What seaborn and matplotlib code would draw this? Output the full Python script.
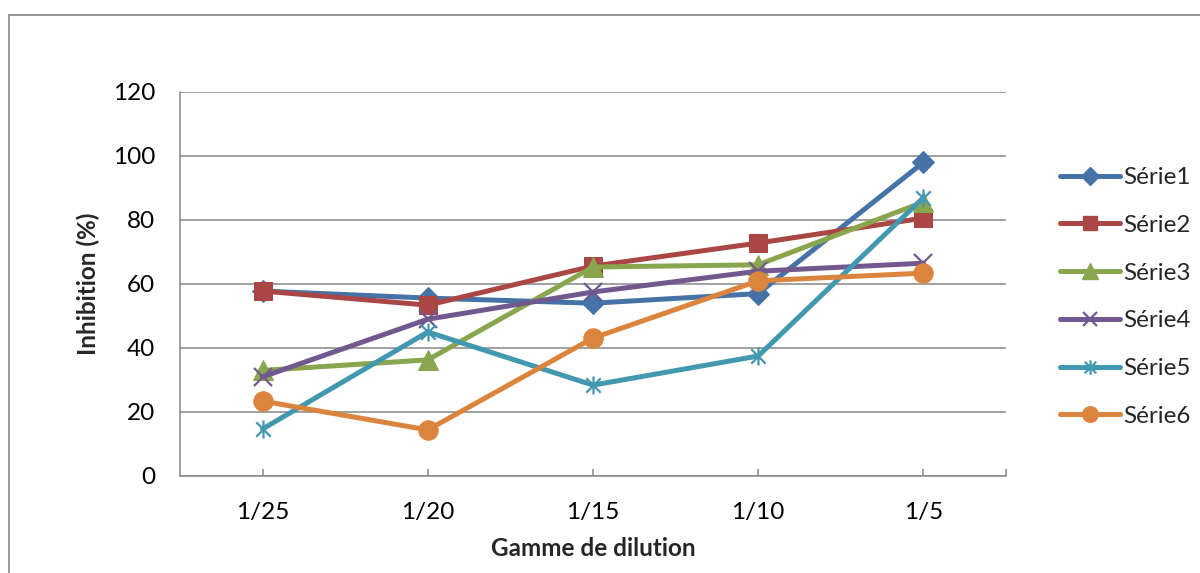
import matplotlib
matplotlib.use("Agg")
import matplotlib.pyplot as plt
from matplotlib.path import Path
from matplotlib.patches import Rectangle
from matplotlib.lines import Line2D
import seaborn as sns

# Dilution range and inhibition (%) per series
dilutions = ["1/25", "1/20", "1/15", "1/10", "1/5"]
serie1 = [57.8, 55.6, 54.0, 57.0, 98.0]
serie2 = [57.8, 53.4, 65.6, 72.8, 80.6]
serie3 = [33.0, 36.3, 65.3, 66.0, 85.6]
serie4 = [31.0, 49.0, 57.5, 64.0, 66.5]
serie5 = [14.7, 45.0, 28.4, 37.5, 87.0]
serie6 = [23.4, 14.4, 43.1, 61.0, 63.4]
series_names = ["Série1", "Série2", "Série3", "Série4", "Série5", "Série6"]
y_ticks = [0, 20, 40, 60, 80, 100, 120]

sns.set_theme(style="white")
plt.rcParams["font.family"] = ["Lato", "DejaVu Sans"]

asterisk = Path(
    [(0, -1), (0, 1), (-0.8, -0.8), (0.8, 0.8), (-0.8, 0.8), (0.8, -0.8)],
    [Path.MOVETO, Path.LINETO] * 3,
)

colors = ["#4572A7", "#AA4643", "#89A54E", "#71588F", "#4198AF", "#DB843D"]
styles = [
    dict(marker="D", markersize=11),
    dict(marker="s", markersize=13),
    dict(marker="^", markersize=14),
    dict(marker="x", markersize=13, markeredgewidth=1.6),
    dict(marker=asterisk, markersize=13, markeredgewidth=1.6),
    dict(marker="o", markersize=14),
]

fig = plt.figure(figsize=(12, 5.73), dpi=100)
ax = fig.add_axes([180 / 1200, 97 / 573, 826 / 1200, 384 / 573])

# chart area frame
fig.patches.append(Rectangle((9 / 1200, -0.1), 1.2, (573 - 15) / 573 + 0.1,
                             transform=fig.transFigure, fill=False,
                             edgecolor="#868686", linewidth=1.2, zorder=0))

positions = list(range(len(dilutions)))
all_series = [serie1, serie2, serie3, serie4, serie5, serie6]
handles = []
for name, vals, col, st in zip(series_names, all_series, colors, styles):
    sns.lineplot(x=positions, y=vals, ax=ax, color=col, linewidth=3.6,
                 markeredgecolor=col, markerfacecolor=col, zorder=3,
                 legend=False, **st)
    leg_st = dict(st)
    leg_st["markersize"] = st["markersize"] * 0.8
    handles.append(Line2D([0], [0], color=col, linewidth=3.6,
                          markeredgecolor=col, markerfacecolor=col, **leg_st))

ax.set_xlim(-0.5, len(dilutions) - 0.5)
ax.set_ylim(0, 120)
ax.set_yticks(y_ticks)
ax.set_yticklabels([str(v) for v in y_ticks], fontsize=17.5, color="black")
ax.set_xticks(positions)
ax.set_xticks([len(dilutions) - 0.5], minor=True)
ax.set_xticklabels(dilutions, fontsize=17.5, color="black")

ax.grid(axis="y", color="#868686", linewidth=1.1)
ax.set_axisbelow(True)
for side in ["top", "right"]:
    ax.spines[side].set_visible(False)
for side in ["left", "bottom"]:
    ax.spines[side].set_color("#868686")
    ax.spines[side].set_linewidth(1.1)

ax.tick_params(axis="x", which="both", direction="in", length=5, width=1.1,
               color="#868686", pad=19, bottom=True)
ax.tick_params(axis="y", length=0, pad=18)

ax.set_xlabel("Gamme de dilution", fontsize=17.5, fontweight="bold", labelpad=10)
ax.set_ylabel("Inhibition (%)", fontsize=17.5, fontweight="bold", labelpad=9)

fig.legend(handles, series_names, loc="upper left",
           bbox_to_anchor=(1060 / 1200, 1 - 167 / 573), frameon=False,
           fontsize=17.5, handlelength=2.45, handletextpad=0.15,
           labelspacing=1.1, borderpad=0, borderaxespad=0)

fig.savefig("out.png", dpi=100)
